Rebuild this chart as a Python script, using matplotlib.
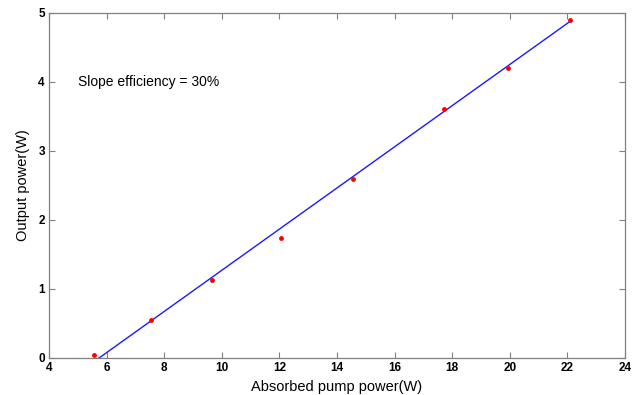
import matplotlib
matplotlib.use("Agg")
import matplotlib.pyplot as plt

plt.rcParams["font.family"] = ["Liberation Sans", "DejaVu Sans"]

# measured points
pump_power = [5.56, 7.55, 9.67, 12.05, 14.55, 17.70, 19.93, 22.10]
output_power = [0.05, 0.55, 1.13, 1.74, 2.60, 3.61, 4.20, 4.90]

# linear fit line endpoints
fit_x = [5.74, 22.10]
fit_y = [0.0, 4.88]

x_ticks = [4, 6, 8, 10, 12, 14, 16, 18, 20, 22, 24]
y_ticks = [0, 1, 2, 3, 4, 5]

fig = plt.figure(figsize=(6.41, 3.95), dpi=100)
ax = fig.add_axes([0.0764, 0.0937, 0.8986, 0.8734])

ax.plot(fit_x, fit_y, color="#1a1aff", linewidth=1.0)
ax.plot(pump_power, output_power, "o", color="red", markersize=3.5, markeredgewidth=0)

ax.set_xlim(4, 24)
ax.set_ylim(0, 5)
ax.set_xticks(x_ticks)
ax.set_yticks(y_ticks)
ax.tick_params(direction="in", top=True, right=True, length=4, width=0.8,
               color="#808080", labelsize=8.5, pad=3)
for lbl in ax.get_xticklabels() + ax.get_yticklabels():
    lbl.set_fontweight("bold")
for spine in ax.spines.values():
    spine.set_color("#808080")
    spine.set_linewidth(0.9)

ax.set_xlabel("Absorbed pump power(W)", fontsize=10.5, labelpad=4)
ax.set_ylabel("Output power(W)", fontsize=10.5, labelpad=6)
ax.text(5.0, 4.0, "Slope efficiency = 30%", fontsize=10, va="center", ha="left")

fig.savefig("out.png", dpi=100)
